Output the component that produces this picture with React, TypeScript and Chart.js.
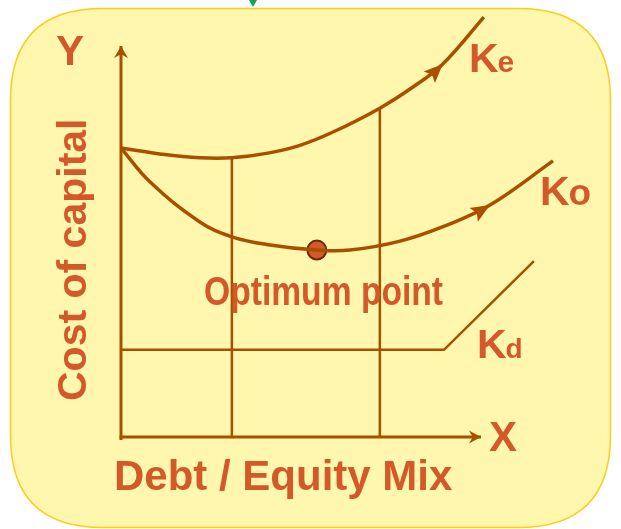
import React, { useEffect, useRef } from "react";
import { Chart, registerables } from "chart.js";

Chart.register(...registerables);

// ---- data (conceptual units: origin at the axes' corner) ----
const keX = [0, 1.08, 2.19, 3.08, 4.08, 4.97, 5.89, 7.19, 8.11, 8.94, 10.08];
const keY = [7.39, 7.24, 7.14, 7.14, 7.26, 7.46, 7.8, 8.41, 8.95, 9.54, 10.74];
const keArrowIndex = 9;

const koX = [0, 0.81, 2.19, 3.08, 4.14, 5.44, 6.36, 7.75, 9.0, 10.25, 12.0];
const koY = [7.39, 6.52, 5.5, 5.12, 4.91, 4.78, 4.78, 5.01, 5.4, 5.93, 7.06];
const koArrowIndex = 9;

const kdX = [0, 8.97, 11.47];
const kdY = [2.23, 2.23, 4.5];

const vlineX = [3.08, 7.19];
const vlineTop = [7.14, 8.41];

const optimumX = [5.44];
const optimumY = [4.78];

const axisEnd = 10;

const curveLabels = ["Ke", "Ko", "Kd"];
const axisLabels = ["Y", "X"];
const yTitle = "Cost of capital";
const xTitle = "Debt / Equity Mix";
const optimumLabel = "Optimum point";

// ---- styles ----
const LINE = "#A84F00";
const TEXT = "#D3592B";
const FILL = "#FFF7AD";
const BORDER = "#FFCC1A";

const pts = (xs: number[], ys: number[]) => xs.map((x, i) => ({ x, y: ys[i] }));

function App() {
  const ref = useRef<HTMLCanvasElement | null>(null);

  useEffect(() => {
    if (!ref.current) return;

    const arrows: { ds: number; idx: number; len: number; half: number }[] = [];

    const datasets: any[] = [];
    // axes
    datasets.push({
      data: [{ x: 0, y: -0.08 }, { x: 0, y: axisEnd }],
      showLine: true, borderColor: LINE, borderWidth: 3, pointRadius: 0, tension: 0,
    });
    arrows.push({ ds: datasets.length - 1, idx: 1, len: 12, half: 7 });
    datasets.push({
      data: [{ x: -0.04, y: 0 }, { x: axisEnd, y: 0 }],
      showLine: true, borderColor: LINE, borderWidth: 3, pointRadius: 0, tension: 0,
    });
    arrows.push({ ds: datasets.length - 1, idx: 1, len: 12, half: 6.5 });
    // vertical guide lines
    vlineX.forEach((vx, i) => {
      datasets.push({
        data: [{ x: vx, y: 0 }, { x: vx, y: vlineTop[i] }],
        showLine: true, borderColor: LINE, borderWidth: 2.5, pointRadius: 0, tension: 0,
      });
    });
    // Kd
    datasets.push({
      label: curveLabels[2],
      data: pts(kdX, kdY),
      showLine: true, borderColor: LINE, borderWidth: 2.5, pointRadius: 0, tension: 0,
    });
    // Ke
    datasets.push({
      label: curveLabels[0],
      data: pts(keX, keY),
      showLine: true, borderColor: LINE, borderWidth: 3.5, pointRadius: 0,
      tension: 0.4,
    });
    arrows.push({ ds: datasets.length - 1, idx: keArrowIndex, len: 19, half: 8 });
    // Ko
    datasets.push({
      label: curveLabels[1],
      data: pts(koX, koY),
      showLine: true, borderColor: LINE, borderWidth: 3.5, pointRadius: 0,
      tension: 0.4,
    });
    arrows.push({ ds: datasets.length - 1, idx: koArrowIndex, len: 19, half: 8 });
    // optimum point
    datasets.push({
      data: pts(optimumX, optimumY),
      showLine: false, pointRadius: 9.5, pointBackgroundColor: "#D2592A",
      pointBorderColor: "#6A2A0C", pointBorderWidth: 2,
    });

    const bgPlugin = {
      id: "bg",
      beforeDraw(chart: any) {
        const ctx = chart.ctx as CanvasRenderingContext2D;
        ctx.save();
        const l = 10.5, t = 8.5, r = 610.5, b = 527.5, rad = 92;
        ctx.beginPath();
        ctx.moveTo(l + rad, t);
        ctx.lineTo(r - rad, t);
        ctx.quadraticCurveTo(r, t, r, t + rad);
        ctx.lineTo(r, b - rad);
        ctx.quadraticCurveTo(r, b, r - rad, b);
        ctx.lineTo(l + rad, b);
        ctx.quadraticCurveTo(l, b, l, b - rad);
        ctx.lineTo(l, t + rad);
        ctx.quadraticCurveTo(l, t, l + rad, t);
        ctx.closePath();
        ctx.fillStyle = FILL;
        ctx.fill();
        ctx.lineWidth = 1.5;
        ctx.strokeStyle = BORDER;
        ctx.stroke();
        // small green marker at the top edge
        ctx.beginPath();
        ctx.moveTo(249, 0);
        ctx.lineTo(257, 0);
        ctx.lineTo(253, 7);
        ctx.closePath();
        ctx.fillStyle = "#17A25A";
        ctx.fill();
        ctx.restore();
      },
    };

    const decoPlugin = {
      id: "deco",
      afterDatasetsDraw(chart: any) {
        const ctx = chart.ctx as CanvasRenderingContext2D;
        ctx.save();
        // arrowheads along the lines
        arrows.forEach((a) => {
          const meta = chart.getDatasetMeta(a.ds);
          const p = meta.data;
          const tip = p[a.idx];
          const prev = p[Math.max(0, a.idx - 1)];
          const next = p[Math.min(p.length - 1, a.idx + 1)];
          const ang = Math.atan2(next.y - prev.y, next.x - prev.x);
          const bx = tip.x - Math.cos(ang) * a.len;
          const by = tip.y - Math.sin(ang) * a.len;
          const nx = -Math.sin(ang), ny = Math.cos(ang);
          ctx.beginPath();
          ctx.moveTo(tip.x, tip.y);
          ctx.lineTo(bx + nx * a.half, by + ny * a.half);
          ctx.lineTo(bx + nx * a.half * 0.2 + Math.cos(ang) * 3, by + ny * a.half * 0.2 + Math.sin(ang) * 3);
          ctx.lineTo(bx - nx * a.half * 0.2 + Math.cos(ang) * 3, by - ny * a.half * 0.2 + Math.sin(ang) * 3);
          ctx.lineTo(bx - nx * a.half, by - ny * a.half);
          ctx.closePath();
          ctx.fillStyle = LINE;
          ctx.fill();
        });

        ctx.fillStyle = TEXT;
        ctx.textBaseline = "alphabetic";
        ctx.textAlign = "left";
        const F = "'Liberation Sans', Arial, sans-serif";
        const drawK = (sub: string, x: number, y: number, subSize: number) => {
          ctx.font = `bold 41px ${F}`;
          ctx.fillText("K", x, y);
          const w = ctx.measureText("K").width;
          ctx.font = `bold ${subSize}px ${F}`;
          ctx.fillText(sub, x + w - 1, y);
        };
        drawK(curveLabels[0].slice(1), 469, 72, 30);
        drawK(curveLabels[1].slice(1), 540, 205, 37);
        drawK(curveLabels[2].slice(1), 477, 358, 28);

        ctx.font = `bold 42px ${F}`;
        ctx.fillText(axisLabels[0], 56, 65);
        ctx.fillText(axisLabels[1], 489, 451);
        ctx.fillText(xTitle, 114, 490);

        // Optimum point (narrow bold)
        ctx.save();
        ctx.translate(204, 305);
        ctx.scale(0.82, 1);
        ctx.font = `bold 41px ${F}`;
        ctx.fillText(optimumLabel, 0, 0);
        ctx.restore();

        // rotated y title
        ctx.save();
        ctx.translate(86, 401);
        ctx.rotate(-Math.PI / 2);
        ctx.font = `bold 41px ${F}`;
        ctx.fillText(yTitle, 0, 0);
        ctx.restore();

        ctx.restore();
      },
    };

    const chart = new Chart(ref.current, {
      type: "scatter",
      data: { datasets },
      options: {
        animation: false,
        responsive: false,
        devicePixelRatio: 1,
        layout: { padding: 0, autoPadding: false },
        plugins: { legend: { display: false }, tooltip: { enabled: false } },
        events: [],
        scales: {
          x: { type: "linear", display: false, min: -3.361, max: 13.889 },
          y: { type: "linear", display: false, min: -2.353, max: 11.176 },
        },
      },
      plugins: [bgPlugin, decoPlugin],
    });
    return () => chart.destroy();
  }, []);

  return (
    <div style={{ position: "absolute", left: 0, top: 0, width: 621, height: 529, background: "#fff" }}>
      <canvas ref={ref} width={621} height={529} style={{ display: "block" }} />
    </div>
  );
}

export default App;
